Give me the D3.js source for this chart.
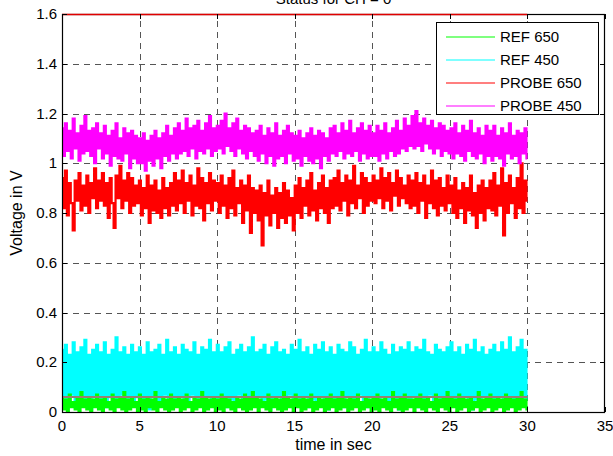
<!DOCTYPE html>
<html>
<head>
<meta charset="utf-8">
<script src="https://cdn.jsdelivr.net/npm/d3@7"></script>
<style>
  html, body { margin: 0; padding: 0; background: #fff; }
  svg { display: block; }
  text { font-family: "Liberation Sans", Arial, Helvetica, sans-serif; }
</style>
</head>
<body>
<svg id="chart" width="613" height="456"></svg>
<script>
// ---------------- DATA ----------------
const titleText = "Status for CH = 0";
const xLabel = "time in sec";
const yLabel = "Voltage in V";
const xTicks = [0, 5, 10, 15, 20, 25, 30, 35];
const yTicks = [0, 0.2, 0.4, 0.6, 0.8, 1, 1.2, 1.4, 1.6];
const xTickLabels = ["0", "5", "10", "15", "20", "25", "30", "35"];
const yTickLabels = ["0", "0.2", "0.4", "0.6", "0.8", "1", "1.2", "1.4", "1.6"];
const seriesNames = ["REF 650", "REF 450", "PROBE 650", "PROBE 450"];
const timeSpan = [0, 30]; // seconds covered by the samples

const ref650 = [
0.06,0.01,0.05,0.00,0.07,0.02,0.04,0.01,0.06,0.00,0.08,0.02,0.05,0.01,0.06,0.00,0.05,0.02,0.07,0.01,
0.05,0.00,0.06,0.02,0.04,0.01,0.07,0.00,0.05,0.02,0.06,0.01,0.08,0.00,0.05,0.01,0.06,0.02,0.04,0.00,
0.07,0.01,0.05,0.00,0.06,0.02,0.05,0.01,0.08,0.00,0.04,0.02,0.06,0.01,0.05,0.00,0.07,0.01,0.05,0.02,
0.06,0.00,0.05,0.01,0.07,0.02,0.04,0.00,0.06,0.01,0.05,0.02,0.08,0.00,0.06,0.01,0.05,0.02,0.06,0.00,
0.05,0.01,0.07,0.00,0.06,0.02,0.05,0.01,0.04,0.00,0.06,0.02,0.05,0.01,0.07,0.00,0.06,0.01,0.08,0.02,
0.06,0.00,0.05,0.02,0.04,0.01,0.07,0.00,0.05,0.02,0.06,0.01,0.05,0.00,0.08,0.01,0.06,0.02,0.05,0.00,
0.07,0.02,0.05,0.00,0.06,0.01,0.05,0.02,0.07,0.00,0.04,0.01,0.06,0.02,0.05,0.00,0.06,0.01,0.07,0.02,
0.05,0.00,0.06,0.01,0.08,0.02,0.05,0.00,0.06,0.01,0.05,0.02,0.07,0.00,0.04,0.01,0.06,0.02,0.05,0.00,
0.06,0.01,0.07,0.00,0.05,0.02,0.06,0.01,0.04,0.00,0.08,0.02,0.05,0.01,0.06,0.00,0.07,0.01,0.05,0.02,
0.05,0.00,0.06,0.02,0.07,0.01,0.05,0.00,0.06,0.02,0.04,0.01,0.07,0.00,0.05,0.02,0.06,0.01,0.08,0.00,
0.06,0.02,0.05,0.00,0.07,0.01,0.06,0.02,0.05,0.00,0.06,0.01,0.04,0.02,0.08,0.00,0.05,0.01,0.06,0.02,
0.07,0.00,0.05,0.01,0.06,0.02,0.05,0.00,0.07,0.01,0.06,0.02,0.05,0.00,0.06,0.01,0.08,0.02,0.05,0.01
];

const ref450 = [
0.25,0.05,0.27,0.03,0.23,0.07,0.28,0.02,0.24,0.06,0.26,0.04,0.29,0.05,0.23,0.01,0.25,0.06,0.27,0.03,
0.24,0.05,0.28,0.02,0.23,0.06,0.25,0.04,0.30,0.03,0.24,0.07,0.26,0.02,0.23,0.05,0.27,0.04,0.24,0.06,
0.26,0.03,0.23,0.05,0.28,0.01,0.24,0.06,0.25,0.03,0.27,0.04,0.23,0.07,0.29,0.02,0.24,0.05,0.26,0.03,
0.23,0.06,0.27,0.02,0.25,0.04,0.24,0.07,0.28,0.03,0.23,0.05,0.26,0.01,0.25,0.06,0.29,0.03,0.24,0.05,
0.27,0.04,0.24,0.06,0.26,0.02,0.28,0.05,0.23,0.03,0.25,0.07,0.27,0.04,0.24,0.02,0.26,0.05,0.30,0.03,
0.24,0.06,0.25,0.03,0.27,0.05,0.23,0.01,0.26,0.04,0.28,0.06,0.24,0.03,0.25,0.05,0.23,0.07,0.27,0.02,
0.25,0.04,0.29,0.03,0.24,0.06,0.26,0.02,0.23,0.05,0.27,0.04,0.25,0.06,0.28,0.03,0.24,0.01,0.26,0.05,
0.23,0.03,0.27,0.05,0.25,0.02,0.24,0.06,0.28,0.04,0.26,0.03,0.23,0.07,0.25,0.04,0.29,0.02,0.24,0.06,
0.26,0.05,0.24,0.03,0.28,0.06,0.25,0.02,0.23,0.04,0.27,0.05,0.24,0.01,0.26,0.06,0.25,0.03,0.28,0.04,
0.24,0.06,0.26,0.02,0.25,0.05,0.29,0.03,0.24,0.07,0.23,0.04,0.27,0.02,0.25,0.05,0.24,0.03,0.26,0.06,
0.28,0.03,0.24,0.05,0.26,0.02,0.23,0.06,0.27,0.04,0.25,0.01,0.29,0.05,0.24,0.03,0.26,0.06,0.23,0.04,
0.25,0.05,0.27,0.02,0.24,0.06,0.28,0.03,0.25,0.04,0.30,0.05,0.24,0.02,0.26,0.06,0.29,0.03,0.25,0.05
];

const probe650 = [
0.94,0.82,0.97,0.79,0.92,0.84,0.73,0.93,0.85,0.96,0.81,0.91,0.83,0.95,0.80,0.92,0.86,0.98,0.82,0.93,
0.85,0.96,0.83,0.92,0.78,0.94,0.84,0.74,0.95,0.86,0.99,0.82,0.93,0.85,0.96,0.80,0.94,0.83,0.91,0.84,
0.93,0.79,0.90,0.82,0.95,0.76,0.91,0.81,0.93,0.80,0.89,0.78,0.94,0.82,0.90,0.79,0.92,0.83,0.96,0.81,
0.93,0.84,0.97,0.80,0.92,0.85,0.95,0.79,0.91,0.83,0.98,0.82,0.94,0.77,0.92,0.84,0.96,0.81,0.93,0.85,
0.92,0.80,0.95,0.83,0.91,0.78,0.94,0.82,0.97,0.79,0.90,0.84,0.93,0.76,0.91,0.81,0.95,0.72,0.90,0.80,
0.89,0.77,0.91,0.67,0.88,0.79,0.93,0.75,0.87,0.80,0.90,0.74,0.88,0.78,0.92,0.76,0.89,0.79,0.86,0.73,
0.91,0.80,0.94,0.78,0.90,0.83,0.93,0.79,0.96,0.81,0.89,0.77,0.92,0.82,0.95,0.80,0.90,0.76,0.93,0.82,
0.94,0.83,0.97,0.81,0.92,0.85,0.95,0.79,0.93,0.84,0.99,0.82,0.91,0.86,0.96,0.80,0.94,0.83,0.92,0.85,
0.95,0.84,0.93,0.86,0.98,0.82,0.94,0.85,0.96,0.81,0.92,0.87,0.97,0.83,0.94,0.86,0.91,0.84,0.95,0.82,
0.93,0.83,0.96,0.80,0.92,0.85,0.95,0.78,0.91,0.84,0.97,0.82,0.93,0.79,0.94,0.83,0.90,0.81,0.95,0.84,
0.91,0.80,0.94,0.78,0.89,0.82,0.92,0.76,0.90,0.81,0.95,0.79,0.88,0.74,0.91,0.80,0.93,0.77,0.90,0.82,
0.93,0.81,0.96,0.79,0.91,0.83,0.98,0.71,0.92,0.80,0.95,0.84,0.90,0.78,0.94,0.82,1.00,0.80,0.93,0.85
];

const probe450 = [
1.14,1.03,1.16,1.05,1.13,1.02,1.18,1.06,1.12,1.01,1.15,1.04,1.19,1.05,1.13,1.03,1.14,1.00,1.16,1.06,
1.12,1.02,1.15,1.04,1.11,0.99,1.13,1.03,1.16,1.02,1.10,1.01,1.14,1.04,1.12,0.98,1.13,1.02,1.11,1.00,
1.10,1.00,1.12,0.97,1.09,1.01,1.11,0.99,1.13,1.02,1.10,0.98,1.12,1.03,1.15,1.01,1.11,1.04,1.14,1.02,
1.16,1.04,1.13,1.05,1.18,1.03,1.14,1.06,1.15,1.02,1.17,1.05,1.13,1.04,1.16,1.06,1.19,1.03,1.14,1.05,
1.15,1.06,1.17,1.04,1.20,1.07,1.14,1.05,1.16,1.03,1.18,1.06,1.13,1.04,1.15,1.02,1.14,1.05,1.12,1.03,
1.13,1.01,1.15,1.04,1.11,1.00,1.14,1.03,1.12,0.99,1.16,1.02,1.11,1.03,1.13,1.00,1.15,1.04,1.12,1.01,
1.11,1.02,1.13,0.99,1.10,1.03,1.12,1.01,1.14,1.00,1.11,1.02,1.13,0.98,1.12,1.03,1.10,1.01,1.14,1.04,
1.15,1.03,1.12,1.05,1.16,1.02,1.13,1.04,1.17,1.03,1.12,1.05,1.14,1.01,1.16,1.04,1.13,1.02,1.15,1.03,
1.12,1.03,1.15,1.01,1.13,1.04,1.16,1.02,1.12,1.05,1.14,1.03,1.17,1.04,1.13,1.06,1.18,1.05,1.15,1.07,
1.19,1.06,1.21,1.07,1.16,1.05,1.18,1.08,1.15,1.06,1.17,1.04,1.14,1.06,1.16,1.03,1.15,1.05,1.13,1.04,
1.14,1.02,1.16,1.04,1.12,1.03,1.15,1.01,1.13,1.05,1.17,1.03,1.12,1.02,1.14,1.04,1.11,1.00,1.15,1.03,
1.13,1.01,1.15,1.03,1.11,1.02,1.14,0.99,1.12,1.04,1.16,1.02,1.11,1.03,1.13,1.00,1.12,1.04,1.14,1.02
];

// horizontal reference levels drawn across the sampled span
const upperLevel = 1.6;
const lowerLevel = 0.06;

// ---------------- CHART ----------------
const plot = { left: 62, right: 605, top: 14, bottom: 412 };
const colors = { "REF 650": "#00ff00", "REF 450": "#00ffff", "PROBE 650": "#ff0000", "PROBE 450": "#ff00ff" };
const fontSize = 15;
const labelSize = 16;

const svg = d3.select("#chart");
const x = d3.scaleLinear().domain([0, 35]).range([plot.left, plot.right]);
const y = d3.scaleLinear().domain([0, 1.6]).range([plot.bottom, plot.top]);

svg.append("defs").append("clipPath").attr("id", "clip")
  .append("rect").attr("x", plot.left).attr("y", plot.top)
  .attr("width", plot.right - plot.left).attr("height", plot.bottom - plot.top);

// grid
const grid = svg.append("g").attr("stroke", "#555").attr("stroke-width", 1)
  .attr("stroke-dasharray", "6,5").attr("shape-rendering", "crispEdges");
xTicks.filter(v => v > 0 && v < 35).forEach(v => {
  grid.append("line").attr("x1", Math.round(x(v)) + 0.5).attr("x2", Math.round(x(v)) + 0.5)
    .attr("y1", plot.bottom).attr("y2", plot.top);
});
yTicks.filter(v => v > 0 && v < 1.6).forEach(v => {
  grid.append("line").attr("y1", Math.round(y(v)) + 0.5).attr("y2", Math.round(y(v)) + 0.5)
    .attr("x1", plot.left).attr("x2", plot.right);
});

// series (dense samples drawn as vertical steps, like a decimated signal trace)
const seriesData = { "REF 650": ref650, "REF 450": ref450, "PROBE 650": probe650, "PROBE 450": probe450 };
const drawOrder = ["REF 450", "REF 650", "PROBE 650", "PROBE 450"];
const dataG = svg.append("g").attr("clip-path", "url(#clip)");
drawOrder.forEach(name => {
  const vals = seriesData[name];
  const tScale = d3.scaleLinear().domain([0, vals.length - 1]).range(timeSpan);
  const line = d3.line().curve(d3.curveStep).x((d, i) => x(tScale(i))).y(d => y(d));
  dataG.append("path").datum(vals).attr("d", line)
    .attr("fill", "none").attr("stroke", colors[name]).attr("stroke-width", 2.2)
    .attr("stroke-linejoin", "miter");
});
// lower reference level
dataG.append("line").attr("x1", x(timeSpan[0])).attr("x2", x(timeSpan[1]))
  .attr("y1", y(lowerLevel)).attr("y2", y(lowerLevel))
  .attr("stroke", "#9a8070").attr("stroke-width", 2);

// axes box
svg.append("rect").attr("x", plot.left + 0.5).attr("y", plot.top + 0.5)
  .attr("width", plot.right - plot.left - 1).attr("height", plot.bottom - plot.top)
  .attr("fill", "none").attr("stroke", "#000").attr("stroke-width", 1.2);

// upper reference level (on top of box edge)
svg.append("line").attr("x1", x(timeSpan[0])).attr("x2", x(timeSpan[1]))
  .attr("y1", y(upperLevel) + 0.5).attr("y2", y(upperLevel) + 0.5)
  .attr("stroke", "#e00000").attr("stroke-width", 1.5);

// ticks (inward, all sides)
const tl = 5;
const tk = svg.append("g").attr("stroke", "#000").attr("stroke-width", 1).attr("shape-rendering", "crispEdges");
xTicks.forEach(v => {
  const px = Math.round(x(v)) + 0.5;
  tk.append("line").attr("x1", px).attr("x2", px).attr("y1", plot.bottom).attr("y2", plot.bottom - tl);
  tk.append("line").attr("x1", px).attr("x2", px).attr("y1", plot.top).attr("y2", plot.top + tl);
});
yTicks.forEach(v => {
  const py = Math.round(y(v)) + 0.5;
  tk.append("line").attr("y1", py).attr("y2", py).attr("x1", plot.left).attr("x2", plot.left + tl);
  tk.append("line").attr("y1", py).attr("y2", py).attr("x1", plot.right).attr("x2", plot.right - tl);
});

// tick labels
xTicks.forEach((v, i) => {
  svg.append("text").attr("x", x(v)).attr("y", plot.bottom + 19)
    .attr("text-anchor", "middle").attr("font-size", fontSize).text(xTickLabels[i]);
});
yTicks.forEach((v, i) => {
  svg.append("text").attr("x", plot.left - 5).attr("y", y(v) + 5)
    .attr("text-anchor", "end").attr("font-size", fontSize).text(yTickLabels[i]);
});

// axis labels
svg.append("text").attr("x", (plot.left + plot.right) / 2).attr("y", 450)
  .attr("text-anchor", "middle").attr("font-size", labelSize).text(xLabel);
svg.append("text").attr("transform", `translate(22,${(plot.top + plot.bottom) / 2}) rotate(-90)`)
  .attr("text-anchor", "middle").attr("font-size", labelSize).text(yLabel);

// title (sits at the very top edge, as in the reference)
svg.append("text").attr("x", (plot.left + plot.right) / 2).attr("y", 4)
  .attr("text-anchor", "middle").attr("font-size", fontSize).text(titleText);

// legend
const lg = svg.append("g");
const lb = { x: 436, y: 22, w: 162, h: 92 };
lg.append("rect").attr("x", lb.x + 0.5).attr("y", lb.y + 0.5).attr("width", lb.w).attr("height", lb.h)
  .attr("fill", "#fff").attr("stroke", "#000").attr("stroke-width", 1);
seriesNames.forEach((name, i) => {
  const cy = lb.y + 15 + i * 23;
  lg.append("line").attr("x1", lb.x + 10).attr("x2", lb.x + 59).attr("y1", cy).attr("y2", cy)
    .attr("stroke", colors[name]).attr("stroke-width", 1.2);
  lg.append("text").attr("x", lb.x + 64).attr("y", cy + 5).attr("font-size", fontSize).text(name);
});
</script>
</body>
</html>
